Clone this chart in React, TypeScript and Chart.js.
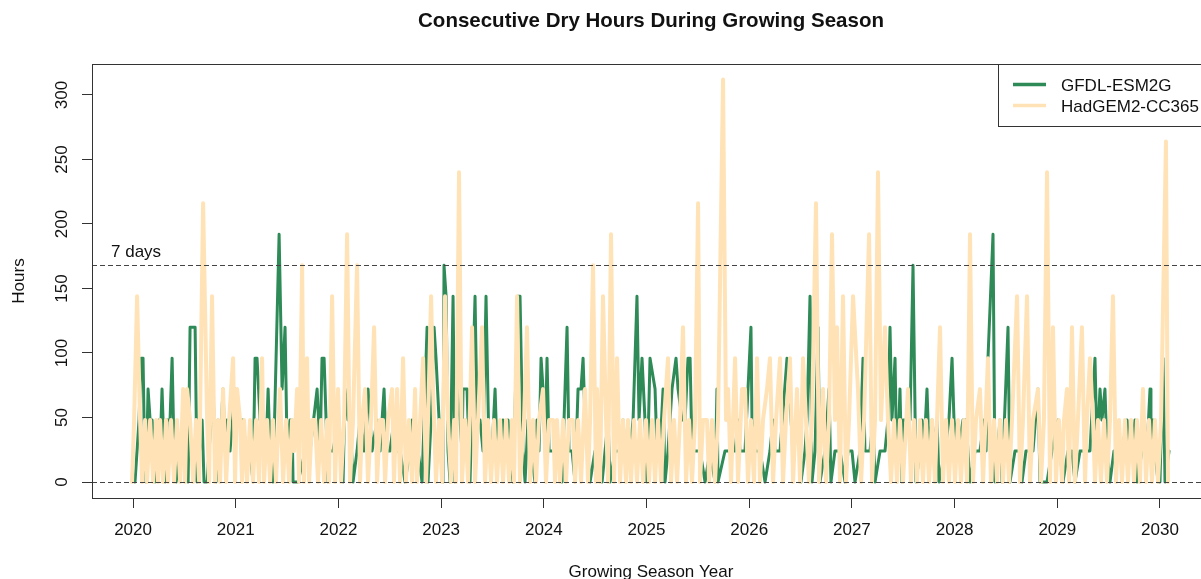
import { useEffect, useRef } from 'react';
import { Chart, registerables } from 'chart.js';

Chart.register(...registerables);

const chartTitle = 'Consecutive Dry Hours During Growing Season';
const xAxisTitle = 'Growing Season Year';
const yAxisTitle = 'Hours';
const seriesNames = ['GFDL-ESM2G', 'HadGEM2-CC365'];
const yearTicks = [2020, 2021, 2022, 2023, 2024, 2025, 2026, 2027, 2028, 2029, 2030];
const hourTicks = [0, 50, 100, 150, 200, 250, 300];
const referenceLines = [0, 168];
const referenceLabel = '7 days';

// [growing-season year, consecutive dry hours]
const gfdlPoints: [number, number][] = [
  [2020.019, 0], [2020.058, 48], [2020.078, 96], [2020.097, 96], [2020.107, 48], [2020.127, 0], [2020.146, 72], [2020.166, 48],
  [2020.185, 48], [2020.214, 0], [2020.234, 24], [2020.253, 48], [2020.263, 24], [2020.282, 72], [2020.302, 24], [2020.312, 0],
  [2020.331, 48], [2020.360, 48], [2020.380, 96], [2020.399, 24], [2020.419, 0], [2020.458, 24], [2020.506, 24], [2020.536, 0],
  [2020.555, 120], [2020.604, 120], [2020.623, 0], [2020.672, 48], [2020.691, 0], [2020.721, 0], [2020.779, 72], [2020.808, 0],
  [2020.828, 48], [2020.847, 24], [2020.876, 72], [2020.896, 24], [2020.915, 48], [2020.944, 24], [2020.993, 72], [2021.013, 48],
  [2021.071, 48], [2021.100, 24], [2021.139, 24], [2021.168, 0], [2021.188, 96], [2021.207, 96], [2021.237, 48], [2021.266, 48],
  [2021.295, 24], [2021.315, 72], [2021.334, 24], [2021.363, 0], [2021.422, 192], [2021.451, 72], [2021.480, 120], [2021.500, 24],
  [2021.529, 48], [2021.548, 48], [2021.558, 0], [2021.607, 0], [2021.675, 24], [2021.723, 24], [2021.792, 72], [2021.821, 24],
  [2021.840, 96], [2021.860, 96], [2021.899, 0], [2021.908, 24], [2021.947, 24], [2021.996, 48], [2022.045, 0], [2022.064, 72],
  [2022.093, 48], [2022.113, 48], [2022.142, 0], [2022.181, 24], [2022.210, 48], [2022.249, 24], [2022.288, 72], [2022.327, 24],
  [2022.376, 48], [2022.405, 24], [2022.444, 72], [2022.454, 48], [2022.473, 24], [2022.502, 24], [2022.541, 48], [2022.561, 24],
  [2022.600, 24], [2022.648, 0], [2022.697, 24], [2022.717, 48], [2022.736, 48], [2022.775, 24], [2022.814, 0], [2022.863, 120],
  [2022.872, 0], [2022.902, 48], [2022.931, 120], [2022.950, 96], [2022.980, 48], [2023.018, 0], [2023.028, 168], [2023.048, 144],
  [2023.067, 24], [2023.087, 0], [2023.116, 144], [2023.135, 0], [2023.155, 72], [2023.184, 48], [2023.203, 24], [2023.213, 72],
  [2023.252, 72], [2023.281, 0], [2023.330, 144], [2023.350, 48], [2023.379, 48], [2023.408, 24], [2023.437, 144], [2023.466, 24],
  [2023.496, 24], [2023.525, 72], [2023.544, 24], [2023.574, 24], [2023.603, 48], [2023.622, 24], [2023.651, 48], [2023.671, 24],
  [2023.700, 0], [2023.749, 144], [2023.768, 144], [2023.797, 24], [2023.817, 0], [2023.846, 48], [2023.875, 24], [2023.914, 0],
  [2023.934, 48], [2023.953, 24], [2023.973, 96], [2023.992, 72], [2024.012, 24], [2024.031, 96], [2024.051, 24], [2024.090, 24],
  [2024.138, 24], [2024.177, 0], [2024.226, 120], [2024.245, 24], [2024.275, 24], [2024.304, 0], [2024.333, 72], [2024.362, 72],
  [2024.382, 96], [2024.401, 48], [2024.450, 0], [2024.498, 24], [2024.567, 0], [2024.596, 24], [2024.625, 48], [2024.645, 0],
  [2024.693, 24], [2024.742, 24], [2024.771, 48], [2024.791, 24], [2024.839, 24], [2024.869, 48], [2024.907, 144], [2024.927, 48],
  [2024.956, 96], [2024.985, 48], [2025.005, 0], [2025.034, 96], [2025.083, 72], [2025.102, 24], [2025.131, 24], [2025.161, 72],
  [2025.180, 0], [2025.209, 24], [2025.248, 72], [2025.287, 96], [2025.307, 72], [2025.346, 48], [2025.375, 48], [2025.404, 96],
  [2025.424, 96], [2025.443, 24], [2025.472, 24], [2025.521, 24], [2025.570, 0], [2025.618, 24], [2025.667, 0], [2025.686, 72],
  [2025.696, 0], [2025.764, 24], [2025.813, 24], [2025.862, 24], [2025.891, 48], [2025.910, 24], [2025.959, 24], [2026.017, 120],
  [2026.027, 48], [2026.056, 24], [2026.105, 24], [2026.154, 0], [2026.202, 24], [2026.232, 48], [2026.251, 24], [2026.300, 24],
  [2026.368, 96], [2026.388, 72], [2026.427, 24], [2026.485, 48], [2026.504, 0], [2026.543, 24], [2026.563, 48], [2026.592, 144],
  [2026.611, 0], [2026.641, 24], [2026.670, 120], [2026.689, 0], [2026.738, 24], [2026.777, 72], [2026.796, 0], [2026.835, 24],
  [2026.884, 24], [2026.933, 0], [2026.962, 24], [2027.001, 24], [2027.030, 0], [2027.079, 24], [2027.108, 96], [2027.127, 24],
  [2027.147, 24], [2027.176, 24], [2027.205, 48], [2027.225, 0], [2027.274, 24], [2027.322, 24], [2027.351, 48], [2027.371, 120],
  [2027.390, 48], [2027.420, 96], [2027.439, 0], [2027.468, 72], [2027.488, 0], [2027.497, 48], [2027.546, 48], [2027.566, 48],
  [2027.595, 168], [2027.624, 0], [2027.663, 24], [2027.683, 48], [2027.702, 24], [2027.731, 72], [2027.751, 24], [2027.780, 48],
  [2027.799, 24], [2027.829, 48], [2027.848, 0], [2027.907, 24], [2027.945, 48], [2027.975, 96], [2027.994, 48], [2028.033, 24],
  [2028.082, 48], [2028.111, 48], [2028.130, 24], [2028.150, 0], [2028.199, 24], [2028.247, 24], [2028.286, 48], [2028.306, 24],
  [2028.325, 96], [2028.374, 192], [2028.393, 0], [2028.442, 48], [2028.462, 0], [2028.520, 120], [2028.539, 0], [2028.588, 24],
  [2028.637, 24], [2028.656, 0], [2028.695, 24], [2028.734, 24], [2028.763, 24], [2028.812, 72], [2028.832, 0], [2028.900, 0],
  [2028.948, 24], [2029.007, 48], [2029.026, 24], [2029.055, 0], [2029.104, 24], [2029.143, 24], [2029.172, 0], [2029.221, 24],
  [2029.270, 24], [2029.318, 24], [2029.367, 96], [2029.387, 24], [2029.416, 72], [2029.435, 48], [2029.464, 72], [2029.484, 24],
  [2029.513, 0], [2029.552, 24], [2029.591, 24], [2029.630, 24], [2029.679, 48], [2029.698, 24], [2029.727, 24], [2029.757, 48],
  [2029.776, 0], [2029.825, 24], [2029.873, 24], [2029.903, 72], [2029.912, 24], [2029.932, 48], [2029.951, 24], [2029.981, 0],
  [2030.000, 0], [2030.029, 96], [2030.049, 0], [2030.088, 24],
];

const hadgemPoints: [number, number][] = [
  [2019.990, 0], [2020.010, 48], [2020.039, 144], [2020.068, 48], [2020.088, 0], [2020.117, 48], [2020.136, 0], [2020.166, 48],
  [2020.195, 0], [2020.224, 48], [2020.243, 0], [2020.263, 48], [2020.292, 0], [2020.321, 48], [2020.341, 0], [2020.370, 48],
  [2020.399, 0], [2020.428, 48], [2020.458, 0], [2020.487, 72], [2020.506, 0], [2020.526, 72], [2020.555, 48], [2020.584, 0],
  [2020.613, 48], [2020.643, 0], [2020.682, 216], [2020.721, 48], [2020.740, 0], [2020.769, 144], [2020.798, 0], [2020.828, 48],
  [2020.847, 0], [2020.876, 72], [2020.906, 0], [2020.935, 48], [2020.974, 96], [2020.993, 0], [2021.013, 72], [2021.042, 48],
  [2021.061, 0], [2021.081, 48], [2021.110, 0], [2021.139, 48], [2021.168, 0], [2021.198, 48], [2021.227, 0], [2021.256, 96],
  [2021.276, 0], [2021.305, 48], [2021.334, 0], [2021.363, 48], [2021.392, 0], [2021.431, 72], [2021.461, 0], [2021.490, 48],
  [2021.519, 0], [2021.548, 48], [2021.568, 24], [2021.597, 72], [2021.616, 0], [2021.646, 168], [2021.665, 0], [2021.694, 96],
  [2021.714, 0], [2021.743, 48], [2021.772, 48], [2021.801, 0], [2021.831, 48], [2021.860, 0], [2021.889, 48], [2021.908, 0],
  [2021.938, 144], [2021.967, 0], [2021.996, 72], [2022.025, 0], [2022.055, 48], [2022.084, 192], [2022.113, 0], [2022.142, 48],
  [2022.181, 168], [2022.210, 0], [2022.230, 48], [2022.259, 72], [2022.288, 0], [2022.317, 48], [2022.347, 120], [2022.376, 0],
  [2022.405, 48], [2022.434, 48], [2022.454, 0], [2022.483, 48], [2022.522, 72], [2022.541, 0], [2022.571, 72], [2022.600, 0],
  [2022.629, 96], [2022.658, 0], [2022.687, 48], [2022.717, 0], [2022.746, 72], [2022.765, 0], [2022.795, 48], [2022.824, 96],
  [2022.853, 0], [2022.872, 48], [2022.902, 144], [2022.921, 72], [2022.950, 0], [2022.980, 48], [2023.009, 0], [2023.038, 144],
  [2023.067, 48], [2023.096, 0], [2023.126, 48], [2023.145, 0], [2023.174, 240], [2023.203, 0], [2023.233, 48], [2023.262, 0],
  [2023.301, 120], [2023.330, 0], [2023.359, 48], [2023.398, 120], [2023.427, 0], [2023.457, 48], [2023.486, 0], [2023.515, 48],
  [2023.544, 0], [2023.574, 48], [2023.603, 0], [2023.632, 48], [2023.661, 0], [2023.690, 48], [2023.710, 0], [2023.739, 144],
  [2023.768, 0], [2023.807, 48], [2023.836, 120], [2023.866, 0], [2023.895, 48], [2023.924, 0], [2023.953, 48], [2023.992, 72],
  [2024.021, 0], [2024.051, 48], [2024.090, 48], [2024.109, 0], [2024.128, 48], [2024.158, 0], [2024.187, 48], [2024.216, 0],
  [2024.245, 48], [2024.284, 48], [2024.304, 0], [2024.333, 48], [2024.362, 0], [2024.401, 72], [2024.430, 0], [2024.450, 48],
  [2024.479, 168], [2024.508, 0], [2024.518, 72], [2024.547, 0], [2024.576, 144], [2024.606, 48], [2024.625, 0], [2024.654, 192],
  [2024.684, 0], [2024.713, 96], [2024.742, 0], [2024.771, 48], [2024.800, 0], [2024.820, 48], [2024.849, 0], [2024.878, 48],
  [2024.907, 0], [2024.937, 48], [2024.966, 0], [2024.995, 48], [2025.024, 0], [2025.054, 48], [2025.083, 0], [2025.112, 48],
  [2025.141, 0], [2025.170, 48], [2025.209, 96], [2025.239, 0], [2025.268, 48], [2025.297, 0], [2025.326, 48], [2025.355, 120],
  [2025.385, 0], [2025.414, 48], [2025.443, 0], [2025.472, 48], [2025.502, 216], [2025.521, 0], [2025.550, 48], [2025.589, 48],
  [2025.609, 0], [2025.638, 48], [2025.667, 0], [2025.696, 48], [2025.745, 312], [2025.774, 48], [2025.794, 72], [2025.823, 0],
  [2025.862, 96], [2025.891, 0], [2025.930, 72], [2025.959, 72], [2025.988, 0], [2026.017, 48], [2026.047, 0], [2026.076, 96],
  [2026.105, 0], [2026.134, 48], [2026.173, 72], [2026.202, 96], [2026.232, 0], [2026.261, 48], [2026.300, 96], [2026.329, 0],
  [2026.358, 48], [2026.397, 96], [2026.427, 0], [2026.465, 72], [2026.495, 0], [2026.524, 96], [2026.553, 48], [2026.582, 0],
  [2026.611, 48], [2026.650, 216], [2026.680, 0], [2026.719, 72], [2026.748, 0], [2026.777, 48], [2026.806, 192], [2026.835, 48],
  [2026.855, 120], [2026.884, 0], [2026.913, 144], [2026.943, 0], [2026.972, 48], [2027.011, 144], [2027.059, 72], [2027.089, 0],
  [2027.118, 48], [2027.167, 192], [2027.196, 0], [2027.225, 48], [2027.254, 240], [2027.283, 48], [2027.322, 120], [2027.351, 48],
  [2027.381, 0], [2027.410, 48], [2027.439, 0], [2027.468, 48], [2027.497, 0], [2027.546, 72], [2027.575, 0], [2027.605, 48],
  [2027.634, 0], [2027.663, 48], [2027.692, 0], [2027.721, 48], [2027.751, 0], [2027.780, 48], [2027.809, 0], [2027.858, 120],
  [2027.887, 0], [2027.916, 48], [2027.945, 0], [2027.975, 48], [2028.004, 0], [2028.033, 48], [2028.062, 0], [2028.091, 48],
  [2028.121, 0], [2028.150, 192], [2028.179, 0], [2028.208, 48], [2028.247, 72], [2028.277, 0], [2028.325, 96], [2028.354, 0],
  [2028.384, 48], [2028.413, 0], [2028.442, 48], [2028.471, 0], [2028.500, 48], [2028.530, 0], [2028.559, 48], [2028.608, 144],
  [2028.637, 0], [2028.666, 48], [2028.705, 144], [2028.734, 0], [2028.763, 48], [2028.812, 72], [2028.841, 0], [2028.870, 48],
  [2028.900, 240], [2028.929, 0], [2028.958, 120], [2028.987, 0], [2029.016, 48], [2029.046, 0], [2029.065, 48], [2029.094, 72],
  [2029.114, 0], [2029.143, 120], [2029.172, 0], [2029.201, 48], [2029.240, 120], [2029.270, 0], [2029.289, 48], [2029.318, 96],
  [2029.348, 48], [2029.367, 0], [2029.396, 48], [2029.425, 0], [2029.455, 48], [2029.484, 0], [2029.513, 48], [2029.542, 144],
  [2029.572, 0], [2029.601, 48], [2029.630, 0], [2029.659, 48], [2029.688, 0], [2029.718, 48], [2029.747, 0], [2029.776, 48],
  [2029.805, 0], [2029.834, 72], [2029.864, 0], [2029.893, 48], [2029.922, 0], [2029.951, 48], [2029.981, 0], [2030.010, 48],
  [2030.058, 264], [2030.078, 0],
];

const FONT = '"Liberation Sans", Arial, Helvetica, sans-serif';
const GREEN = '#2E8B57';
const PEACH = '#FFE3B6';
const INK = '#111111';

const decorPlugin = {
  id: 'rDecor',
  afterDatasetsDraw(chart: any) {
    const { ctx, chartArea: a, scales } = chart;
    const ys = scales.y;
    ctx.save();
    ctx.beginPath();
    ctx.rect(a.left, a.top, a.right - a.left, a.bottom - a.top);
    ctx.clip();
    ctx.strokeStyle = '#444';
    ctx.lineWidth = 1.2;
    ctx.setLineDash([5, 3]);
    referenceLines.forEach((v) => {
      const y = Math.round(ys.getPixelForValue(v)) + 0.5;
      ctx.beginPath();
      ctx.moveTo(a.left, y);
      ctx.lineTo(a.right, y);
      ctx.stroke();
    });
    ctx.restore();

    ctx.save();
    ctx.fillStyle = INK;
    ctx.font = `17px ${FONT}`;
    ctx.textAlign = 'left';
    ctx.textBaseline = 'alphabetic';
    ctx.fillText(referenceLabel, a.left + 19, ys.getPixelForValue(168) - 8);

    ctx.strokeStyle = '#333';
    ctx.lineWidth = 1;
    ctx.setLineDash([]);
    ctx.strokeRect(Math.round(a.left) + 0.5, Math.round(a.top) + 0.5, Math.round(a.right - a.left), Math.round(a.bottom - a.top));

    const lx = 998.5;
    const ly = a.top + 0.5;
    const lw = a.right - lx;
    const lh = 62;
    ctx.fillStyle = '#fff';
    ctx.fillRect(lx, ly, lw, lh);
    ctx.strokeRect(lx, ly, lw, lh);
    const rows = [
      { name: seriesNames[0], color: GREEN, y: 84.5 },
      { name: seriesNames[1], color: PEACH, y: 105.5 },
    ];
    rows.forEach((r) => {
      ctx.strokeStyle = r.color;
      ctx.lineWidth = 3.5;
      ctx.beginPath();
      ctx.moveTo(1013, r.y);
      ctx.lineTo(1046, r.y);
      ctx.stroke();
      ctx.fillStyle = INK;
      ctx.font = `17px ${FONT}`;
      ctx.textBaseline = 'middle';
      ctx.fillText(r.name, 1061, r.y + 1.5);
    });
    ctx.restore();
  },
  afterDraw(chart: any) {
    const { ctx, chartArea: a } = chart;
    const cx = (a.left + a.right) / 2;
    ctx.save();
    ctx.fillStyle = INK;
    ctx.font = `bold 20.5px ${FONT}`;
    ctx.textAlign = 'center';
    ctx.textBaseline = 'middle';
    ctx.fillText(chartTitle, cx, 21);

    ctx.font = `17px ${FONT}`;
    ctx.textBaseline = 'alphabetic';
    ctx.fillText(xAxisTitle, cx, 577);

    ctx.translate(19, (a.top + a.bottom) / 2);
    ctx.rotate(-Math.PI / 2);
    ctx.textBaseline = 'middle';
    ctx.fillText(yAxisTitle, 0, 0);
    ctx.restore();
  },
};

export default function App() {
  const canvasRef = useRef<HTMLCanvasElement | null>(null);

  useEffect(() => {
    const canvas = canvasRef.current;
    if (!canvas) return;
    const chart = new Chart(canvas, {
      type: 'line',
      data: {
        datasets: [
          {
            label: seriesNames[0],
            data: gfdlPoints.map(([x, y]) => ({ x, y })),
            borderColor: GREEN,
            borderWidth: 3,
            pointRadius: 0,
            tension: 0,
            fill: false,
            borderJoinStyle: 'round',
            borderCapStyle: 'round',
            order: 1,
          },
          {
            label: seriesNames[1],
            data: hadgemPoints.map(([x, y]) => ({ x, y })),
            borderColor: PEACH,
            borderWidth: 4,
            pointRadius: 0,
            tension: 0,
            fill: false,
            borderJoinStyle: 'round',
            borderCapStyle: 'round',
            order: 0,
          },
        ],
      },
      options: {
        animation: false,
        responsive: false,
        devicePixelRatio: 1,
        events: [],
        layout: { padding: { top: 64, right: 5, left: 0, bottom: 0 } },
        plugins: {
          legend: { display: false },
          title: { display: false },
          tooltip: { enabled: false },
        },
        scales: {
          x: {
            type: 'linear',
            min: 2019.6,
            max: 2030.487,
            afterBuildTicks: (s: any) => {
              s.ticks = yearTicks.map((v) => ({ value: v }));
            },
            afterFit: (s: any) => {
              s.height = 81;
            },
            grid: { display: true, drawOnChartArea: false, drawTicks: true, tickLength: 10, color: '#333', lineWidth: 1 },
            border: { display: false },
            ticks: {
              autoSkip: false,
              maxRotation: 0,
              minRotation: 0,
              padding: 12,
              color: INK,
              font: { family: FONT, size: 17 },
              callback: (v: any) => String(v),
            },
          },
          y: {
            type: 'linear',
            min: -12.4,
            max: 324,
            afterBuildTicks: (s: any) => {
              s.ticks = hourTicks.map((v) => ({ value: v }));
            },
            afterFit: (s: any) => {
              s.width = 92;
            },
            grid: { display: true, drawOnChartArea: false, drawTicks: true, tickLength: 10, color: '#333', lineWidth: 1 },
            border: { display: false },
            ticks: {
              autoSkip: false,
              minRotation: 90,
              maxRotation: 90,
              crossAlign: 'center',
              padding: 6,
              color: INK,
              font: { family: FONT, size: 17 },
              callback: (v: any) => String(v),
            },
          },
        },
      },
      plugins: [decorPlugin],
    } as any);
    return () => chart.destroy();
  }, []);

  return (
    <div style={{ position: 'fixed', left: 0, top: 0, width: 1201, height: 579, overflow: 'hidden', background: '#fff' }}>
      <canvas ref={canvasRef} width={1215} height={579} style={{ display: 'block', width: 1215, height: 579 }} />
    </div>
  );
}
